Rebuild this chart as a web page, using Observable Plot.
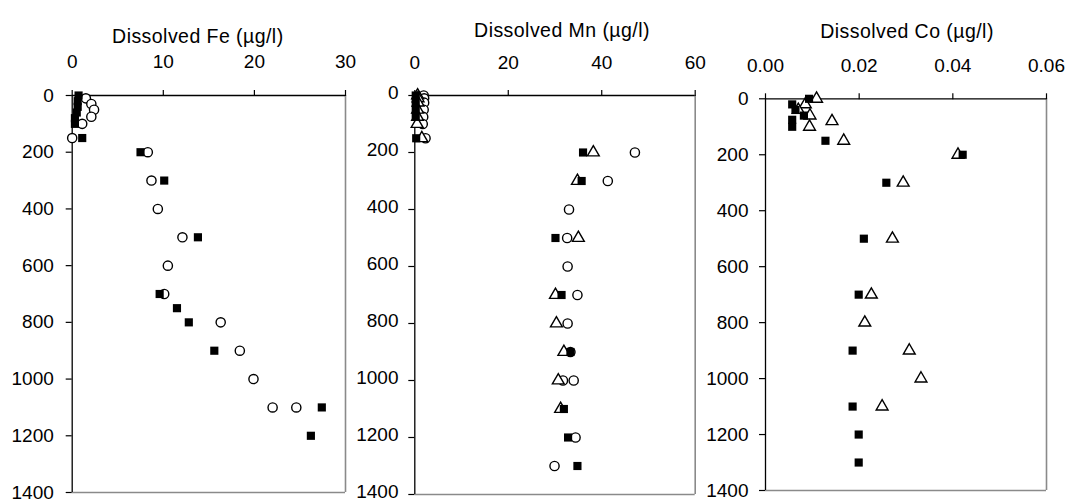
<!DOCTYPE html>
<html><head><meta charset="utf-8">
<script src="https://cdn.jsdelivr.net/npm/d3@7"></script>
<script src="https://cdn.jsdelivr.net/npm/@observablehq/plot@0.6"></script>
<style>
body{margin:0;background:#fff;}
#wrap{position:relative;width:1071px;height:502px;overflow:hidden;background:#fff;}
#wrap svg{position:absolute;top:0;}
</style></head><body><div id="wrap"></div>
<script>
// ---- tick labels ----
const depthTicks = [0, 200, 400, 600, 800, 1000, 1200, 1400];
const feTicks = [0, 10, 20, 30];
const mnTicks = [0, 20, 40, 60];
const coTicks = [0, 0.02, 0.04, 0.06];
const titles = ["Dissolved Fe (µg/l)", "Dissolved Mn (µg/l)", "Dissolved Co (µg/l)"];

// ---- Fe (µg/l) ----
const feCircleDepth = [10, 30, 50, 75, 100, 150, 200, 300, 400, 500, 600, 700, 800, 900, 1000, 1100, 1100];
const feCircleValue = [1.5, 2.1, 2.4, 2.1, 1.1, 0.0, 8.3, 8.7, 9.4, 12.1, 10.5, 10.1, 16.3, 18.4, 19.9, 22.0, 24.6];
const feSquareDepth = [0, 20, 40, 60, 80, 100, 150, 200, 300, 500, 700, 750, 800, 900, 1100, 1200];
const feSquareValue = [0.7, 0.6, 0.6, 0.5, 0.3, 0.3, 1.1, 7.5, 10.1, 13.8, 9.6, 11.5, 12.8, 15.6, 27.4, 26.2];

// ---- Mn (µg/l) ----
const mnCircleDepth = [0, 10, 25, 50, 75, 100, 150, 200, 300, 400, 500, 600, 700, 800, 900, 1000, 1000, 1200, 1300];
const mnCircleValue = [1.9, 2.0, 2.0, 1.9, 1.8, 1.7, 2.3, 47.1, 41.3, 33.0, 32.6, 32.7, 34.8, 32.7, 33.3, 31.7, 34.0, 34.4, 29.9];
const mnSquareDepth = [0, 25, 50, 75, 150, 200, 300, 500, 700, 900, 1100, 1200, 1300];
const mnSquareValue = [0.2, 0.2, 0.2, 0.2, 0.3, 36.0, 35.7, 30.1, 31.4, 33.3, 31.9, 32.8, 34.8];
const mnTriangleDepth = [0, 10, 25, 50, 75, 100, 150, 200, 300, 500, 700, 800, 900, 1000, 1100];
const mnTriangleValue = [0.6, 0.7, 0.7, 0.6, 0.6, 0.5, 1.5, 38.2, 34.8, 35.0, 30.1, 30.3, 31.9, 30.7, 31.2];

// ---- Co (µg/l) ----
const coSquareDepth = [0, 20, 40, 60, 75, 100, 150, 200, 300, 500, 700, 900, 1100, 1200, 1300];
const coSquareValue = [0.0093, 0.0057, 0.0064, 0.0082, 0.0057, 0.0057, 0.0128, 0.0421, 0.0258, 0.0210, 0.0199, 0.0186, 0.0186, 0.0199, 0.0199];
const coTriangleDepth = [0, 20, 40, 60, 80, 100, 150, 200, 300, 500, 700, 800, 900, 1000, 1100];
const coTriangleValue = [0.0109, 0.0085, 0.0070, 0.0095, 0.0142, 0.0094, 0.0167, 0.0411, 0.0294, 0.0271, 0.0226, 0.0212, 0.0307, 0.0332, 0.0249];

const rows = (depths, values) => depths.map((d, i) => ({depth: d, value: values[i]}));

const FONT = "'Liberation Sans', Arial, Helvetica, sans-serif";

function panel(cfg) {
  const marks = [
    Plot.ruleX([cfg.xDomain[1]], {stroke: "#8a8a8a", strokeWidth: 1.6}),
    Plot.ruleY([1400], {stroke: "#8a8a8a", strokeWidth: 1.6}),
    Plot.axisX(cfg.xTicks, {anchor: "top", tickSize: 6, tickPadding: cfg.topPad, tickFormat: cfg.xFormat, label: null, stroke: "#000", strokeWidth: 1.2}),
    Plot.axisY(depthTicks, {anchor: "left", tickSize: 6, tickFormat: () => "", label: null, stroke: "#000", strokeWidth: 1.2}),
    Plot.axisY(depthTicks, {anchor: "left", tickSize: 0, tickPadding: 6 + cfg.leftPad, dy: cfg.labelDy || 0, tickFormat: d => String(d), label: null}),
    Plot.ruleX([cfg.xDomain[0]], {stroke: "#000", strokeWidth: 1.3}),
    Plot.ruleY([0], {stroke: "#000", strokeWidth: 1.3})
  ];
  if (cfg.circles) marks.push(Plot.dot(cfg.circles, {x: "value", y: "depth", symbol: "circle", r: 4.6, fill: "#fff", stroke: "#000", strokeWidth: 1.4}));
  if (cfg.triangles) marks.push(Plot.dot(cfg.triangles, {x: "value", y: "depth", symbol: "triangle", r: 4.4, fill: "#fff", stroke: "#000", strokeWidth: 1.4}));
  if (cfg.squares) marks.push(Plot.dot(cfg.squares, {x: "value", y: "depth", symbol: "square", r: 4.6, fill: "#000", stroke: "none"}));
  marks.push(Plot.text([cfg.title], {frameAnchor: "top", dy: cfg.titleDy, dx: cfg.titleDx, fontSize: 19.5, fill: "#000"}));

  const chart = Plot.plot({
    width: cfg.width, height: 502,
    marginLeft: cfg.ml, marginRight: cfg.mr, marginTop: cfg.mt, marginBottom: cfg.mb,
    style: {fontFamily: FONT, fontSize: "19px", color: "#000", background: "transparent", overflow: "visible"},
    x: {domain: cfg.xDomain, axis: null},
    y: {domain: [0, 1400], reverse: true, axis: null},
    marks
  });
  d3.select(chart).selectAll("text").filter(function () { return this.textContent.startsWith("Dissolved"); })
    .attr("letter-spacing", "0.45px");
  chart.style.left = cfg.left + "px";
  document.getElementById("wrap").appendChild(chart);
}

panel({
  left: 0, width: 357, ml: 71.7, mr: 12, mt: 95, mb: 10,
  xDomain: [0, 30], xTicks: feTicks, xFormat: d => String(d),
  topPad: 22, leftPad: 12.4, title: titles[0], titleDy: -66.2, titleDx: -11,
  circles: rows(feCircleDepth, feCircleValue),
  squares: rows(feSquareDepth, feSquareValue)
});
panel({
  left: 357, width: 355, ml: 57.3, mr: 17.3, mt: 95, mb: 8, labelDy: -2.5,
  xDomain: [0, 60], xTicks: mnTicks, xFormat: d => String(d),
  topPad: 20.7, leftPad: 10.3, title: titles[1], titleDy: -71.9, titleDx: 7,
  circles: rows(mnCircleDepth, mnCircleValue),
  triangles: rows(mnTriangleDepth, mnTriangleValue),
  squares: rows(mnSquareDepth, mnSquareValue)
});
panel({
  left: 712, width: 359, ml: 53, mr: 25, mt: 98.3, mb: 12,
  xDomain: [0, 0.06], xTicks: coTicks, xFormat: d => d.toFixed(2),
  topPad: 21.3, leftPad: 11, title: titles[2], titleDy: -74.5, titleDx: 1,
  triangles: rows(coTriangleDepth, coTriangleValue),
  squares: rows(coSquareDepth, coSquareValue)
});
</script>
</body></html>
